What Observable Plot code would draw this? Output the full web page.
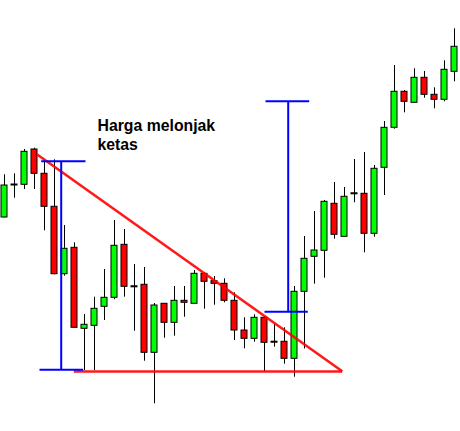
<!DOCTYPE html>
<html>
<head>
<meta charset="utf-8">
<script src="https://cdn.jsdelivr.net/npm/d3@7"></script>
<script src="https://cdn.jsdelivr.net/npm/@observablehq/plot@0.6"></script>
<style>
  html, body { margin: 0; padding: 0; background: #fff; }
  #chart svg { display: block; }
</style>
</head>
<body>
<div id="chart"></div>
<script>
// Candle OHLC values (price units), one entry per bar
const opens  = [214, 246, 246.7, 282, 257.7, 224.7, 157.3, 183.7, 102.7, 105.7,
                124.7, 133.7, 186.7, 145.2, 146.7, 78.7, 127.7, 108.7, 130.7, 127.7,
                157.7, 150.3, 147.7, 130.7, 101, 92.7, 113.7, 89.8, 89.7, 72.7,
                139.7, 174.7, 180.7, 227.7, 194.7, 238.2, 237.7, 197.7, 263.7, 303.7,
                339.7, 328.7, 353.7, 336.7, 331.7, 359.7];
const highs  = [256.7, 257.7, 282, 283.3, 270, 271.7, 206, 188.7, 117, 134.3,
                162, 211, 202, 167, 164, 128, 128, 145, 145, 161,
                158.7, 155, 152.7, 138.7, 113.7, 116.7, 115, 107, 103.7, 145,
                195, 220, 231, 249, 244, 272, 279, 266, 310, 366,
                341, 362.7, 360, 343.7, 370.7, 402.7];
const lows   = [213.5, 233.3, 242, 242, 200.7, 156.7, 155.3, 103.7, 61, 61,
                111, 131.7, 134.3, 100.3, 70.3, 27.7, 93.3, 95.3, 114.3, 127.7,
                122.3, 126.3, 128.7, 91, 82.7, 89.3, 59.7, 84.3, 67.3, 54.3,
                82.5, 147.3, 153.3, 192.3, 194.7, 228.7, 178.7, 194.3, 236, 302.3,
                318.7, 328.7, 333.3, 322.7, 329.7, 349.7];
const closes = [246, 247, 279.7, 257.7, 224.7, 157.3, 182.7, 103.7, 106.7, 122.7,
                133.7, 185.7, 144.7, 144.2, 78.7, 126, 108.7, 130.7, 128.7, 157.7,
                149.7, 147.7, 130.7, 101, 92.7, 113.7, 88.7, 88.8, 72.7, 139.7,
                172.7, 181, 229.7, 196.7, 234.7, 237.2, 197.7, 262.7, 303.7, 339.7,
                329.7, 353.7, 336.7, 331.7, 361.7, 384.7];

// Annotation geometry (bar index, price)
const triangleUpperLine = [[3.27, 277], [33.77, 60.3]];
const triangleBaseLine  = [[6.93, 60], [33.77, 60]];
const measure1Top    = [[3.67, 270.3], [8.1, 270.3]];
const measure1Stem   = [[5.67, 270.3], [5.67, 61.7]];
const measure1Bottom = [[3.5, 61.7], [7.87, 61.7]];
const measure2Top    = [[26.1, 330.3], [30.47, 330.3]];
const measure2Stem   = [[28.37, 330.3], [28.37, 119.7]];
const measure2Bottom = [[26.0, 119.7], [30.33, 119.7]];
const labelText = ["Harga melonjak\nketas"];
const labelPos  = [[9.3, 314.3]];

const candles = opens.map((o, i) => ({
  i, open: o, high: highs[i], low: lows[i], close: closes[i]
}));
const seg = (p) => ({x1: p[0][0], y1: p[0][1], x2: p[1][0], y2: p[1][1]});
const redSegs  = [triangleUpperLine, triangleBaseLine].map(seg);
const blueSegs = [measure1Top, measure1Stem, measure1Bottom, measure2Top, measure2Stem, measure2Bottom].map(seg);
const labels = labelText.map((t, k) => ({text: t, x: labelPos[k][0], y: labelPos[k][1]}));

const half = 0.3;
const chart = Plot.plot({
  width: 460,
  height: 431,
  margin: 0,
  style: {background: "#fff", fontFamily: "'Liberation Sans', Arial, sans-serif"},
  x: {domain: [-0.4, 45.6], range: [0, 460], axis: null},
  y: {domain: [0, 431], range: [431, 0], axis: null},
  marks: [
    Plot.ruleX(candles, {x: "i", y1: "low", y2: "high", stroke: "#000", strokeWidth: 1}),
    Plot.rect(candles, {
      x1: d => d.i - half, x2: d => d.i + half,
      y1: "open", y2: "close",
      fill: d => d.close >= d.open ? "#00ff00" : "#ff0000",
      stroke: "#000", strokeWidth: 1
    }),
    Plot.link(redSegs, {x1: "x1", y1: "y1", x2: "x2", y2: "y2", stroke: "#ff0000", strokeWidth: 2.6, strokeOpacity: 0.9}),
    Plot.link(blueSegs, {x1: "x1", y1: "y1", x2: "x2", y2: "y2", stroke: "#0000ff", strokeWidth: 2}),
    Plot.text(labels, {
      x: "x", y: "y", text: "text",
      textAnchor: "start", lineAnchor: "top", lineHeight: 1.2,
      fontSize: 15.8, fontWeight: "bold", fill: "#000"
    })
  ]
});
document.getElementById("chart").appendChild(chart);
</script>
</body>
</html>
